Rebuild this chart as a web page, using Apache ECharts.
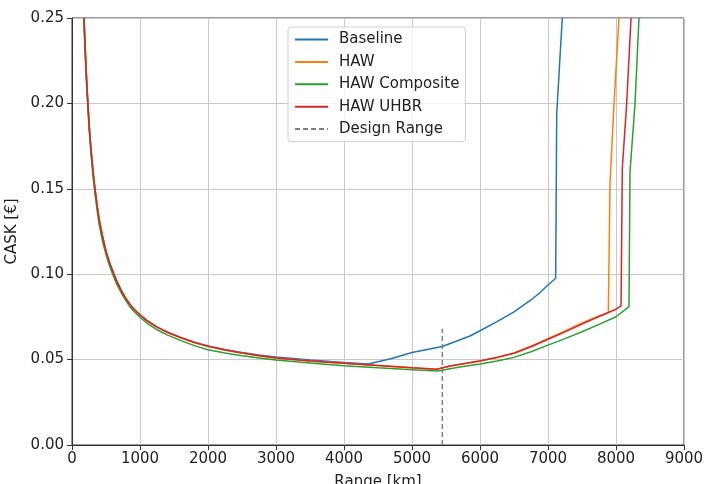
<!DOCTYPE html>
<html>
<head>
<meta charset="utf-8">
<script src="https://cdn.jsdelivr.net/npm/echarts@6/dist/echarts.min.js"></script>
<style>
  html, body { margin: 0; padding: 0; background: #fff; }
  #chart { width: 704px; height: 484px; }
</style>
</head>
<body>
<div id="chart"></div>
<script>
// values
const baselineX = [176, 190, 205, 220, 240, 260, 280, 310, 338, 370, 400, 450, 500, 550, 608, 660, 720, 780, 850, 920, 1000, 1100, 1250, 1400, 1600, 1800, 2000, 2250, 2500, 2750, 3000, 3500, 4000, 4358, 4700, 5000, 5446, 5853, 6000, 6250, 6500, 6750, 6875, 7000, 7113, 7128, 7210]
const baselineY = [0.25, 0.237, 0.222, 0.21, 0.196, 0.183, 0.173, 0.160, 0.150, 0.140, 0.132, 0.122, 0.1135, 0.107, 0.101, 0.0958, 0.0908, 0.0866, 0.0824, 0.0792, 0.0763, 0.0730, 0.0692, 0.0662, 0.0630, 0.0602, 0.0580, 0.0559, 0.0542, 0.0527, 0.0515, 0.0497, 0.0483, 0.0474, 0.0506, 0.0542, 0.0577, 0.0638, 0.0669, 0.0722, 0.0780, 0.0849, 0.0890, 0.0937, 0.0976, 0.194, 0.25]

const hawX = [176, 190, 205, 220, 240, 260, 280, 310, 338, 370, 400, 450, 500, 550, 608, 660, 720, 780, 850, 920, 1000, 1100, 1250, 1400, 1600, 1800, 2000, 2250, 2500, 2750, 3000, 3500, 4000, 4500, 5000, 5363, 5560, 5800, 6000, 6250, 6500, 6750, 7000, 7250, 7500, 7750, 7887, 7912, 7971, 8044]
const hawY = [0.25, 0.237, 0.222, 0.21, 0.196, 0.183, 0.173, 0.160, 0.150, 0.140, 0.132, 0.122, 0.1135, 0.107, 0.101, 0.0958, 0.0908, 0.0866, 0.0824, 0.0792, 0.0761, 0.0728, 0.0690, 0.0660, 0.0628, 0.0600, 0.0578, 0.0556, 0.0538, 0.0523, 0.0510, 0.0492, 0.0478, 0.0466, 0.0452, 0.0443, 0.0462, 0.0478, 0.0493, 0.0513, 0.0539, 0.0578, 0.0622, 0.0668, 0.0715, 0.0755, 0.0776, 0.1532, 0.20, 0.25]

const compX = [172, 176, 190, 205, 220, 240, 260, 280, 310, 338, 370, 400, 450, 500, 550, 608, 660, 720, 780, 850, 920, 1000, 1100, 1250, 1400, 1600, 1800, 2000, 2250, 2500, 2750, 3000, 3500, 4000, 4500, 5000, 5380, 5600, 5800, 6000, 6250, 6500, 6750, 7000, 7250, 7500, 7750, 8000, 8191, 8206, 8280, 8338]
const compY = [0.25, 0.245, 0.232, 0.218, 0.206, 0.192, 0.180, 0.170, 0.157, 0.147, 0.137, 0.129, 0.119, 0.1115, 0.105, 0.099, 0.094, 0.0893, 0.0852, 0.0810, 0.0779, 0.0748, 0.0714, 0.0675, 0.0645, 0.0611, 0.0582, 0.0558, 0.0538, 0.0522, 0.0509, 0.0498, 0.0480, 0.0464, 0.0452, 0.0441, 0.0433, 0.0450, 0.0462, 0.0474, 0.0492, 0.0513, 0.0546, 0.0585, 0.0623, 0.0663, 0.0706, 0.0751, 0.0810, 0.160, 0.20, 0.25]

const uhbrX = [176, 190, 205, 220, 240, 260, 280, 310, 338, 370, 400, 450, 500, 550, 608, 660, 720, 780, 850, 920, 1000, 1100, 1250, 1400, 1600, 1800, 2000, 2250, 2500, 2750, 3000, 3500, 4000, 4500, 5000, 5363, 5560, 5800, 6000, 6250, 6500, 6750, 7000, 7250, 7500, 7750, 8000, 8074, 8093, 8157, 8221]
const uhbrY = [0.25, 0.237, 0.222, 0.21, 0.196, 0.183, 0.173, 0.160, 0.150, 0.140, 0.132, 0.122, 0.1135, 0.107, 0.101, 0.0958, 0.0908, 0.0866, 0.0824, 0.0792, 0.0761, 0.0728, 0.0690, 0.0660, 0.0628, 0.0600, 0.0578, 0.0556, 0.0538, 0.0523, 0.0510, 0.0492, 0.0478, 0.0466, 0.0452, 0.0443, 0.0462, 0.0478, 0.0492, 0.0512, 0.0537, 0.0575, 0.0619, 0.0662, 0.0708, 0.0752, 0.0795, 0.0814, 0.162, 0.20, 0.25]

const designRange = 5446
const designTop = 0.068

const zip = (xs, ys) => xs.map((x, i) => [x, ys[i]])

const chart = echarts.init(document.getElementById('chart'), null, { renderer: 'canvas' })

const font = 'DejaVu Sans'
const lineSeries = (name, xs, ys, color, dash) => ({
  name, type: 'line',
  data: zip(xs, ys),
  symbol: 'none',
  lineStyle: { color, width: 1.5, type: dash || 'solid' },
  itemStyle: { color },
  emphasis: { disabled: true },
})

chart.setOption({
  animation: false,
  textStyle: { fontFamily: font },
  grid: {
    left: 72, right: 20, top: 18, bottom: 39,
    outerBoundsMode: 'none',
    show: true, borderColor: '#333', borderWidth: 1,
  },
  legend: {
    orient: 'vertical',
    left: 288, top: 27,
    padding: [5, 6, 5, 6],
    itemWidth: 33, itemHeight: 15, itemGap: 7.4,
    itemStyle: { opacity: 0 },
    borderColor: '#d0d0d0', borderWidth: 1, borderRadius: 3,
    backgroundColor: 'rgba(255,255,255,0.8)',
    textStyle: { fontFamily: font, fontSize: 15, color: '#222', padding: [0, 0, 0, 6] },
    data: ['Baseline', 'HAW', 'HAW Composite', 'HAW UHBR', 'Design Range'],
  },
  xAxis: {
    type: 'value',
    min: 0, max: 9000, interval: 1000,
    name: 'Range [km]', nameLocation: 'middle', nameGap: 30,
    nameTextStyle: { fontFamily: font, fontSize: 15, color: '#222' },
    axisLine: { lineStyle: { color: '#333', width: 1 } },
    axisTick: { show: true, length: 5, lineStyle: { color: '#333' } },
    axisLabel: { fontFamily: font, fontSize: 15, color: '#222', margin: 7, formatter: v => String(v) },
    splitLine: { show: true, lineStyle: { color: '#c8c8c8', width: 1 } },
  },
  yAxis: {
    type: 'value',
    min: 0, max: 0.25, interval: 0.05,
    name: 'CASK [€]', nameLocation: 'middle', nameGap: 47,
    nameTextStyle: { fontFamily: font, fontSize: 15, color: '#222' },
    axisLine: { show: true, lineStyle: { color: '#333', width: 1 } },
    axisTick: { show: true, length: 5, lineStyle: { color: '#333' } },
    axisLabel: { fontFamily: font, fontSize: 15, color: '#222', margin: 8, formatter: v => v.toFixed(2) },
    splitLine: { show: true, lineStyle: { color: '#c8c8c8', width: 1 } },
  },
  series: [
    lineSeries('Baseline', baselineX, baselineY, '#1f77b4'),
    lineSeries('HAW', hawX, hawY, '#ff7f0e'),
    lineSeries('HAW Composite', compX, compY, '#2ca02c'),
    lineSeries('HAW UHBR', uhbrX, uhbrY, '#d62728'),
    lineSeries('Design Range', [designRange, designRange], [0, designTop], '#7f7f7f', [5, 3]),
  ],
})
</script>
</body>
</html>
